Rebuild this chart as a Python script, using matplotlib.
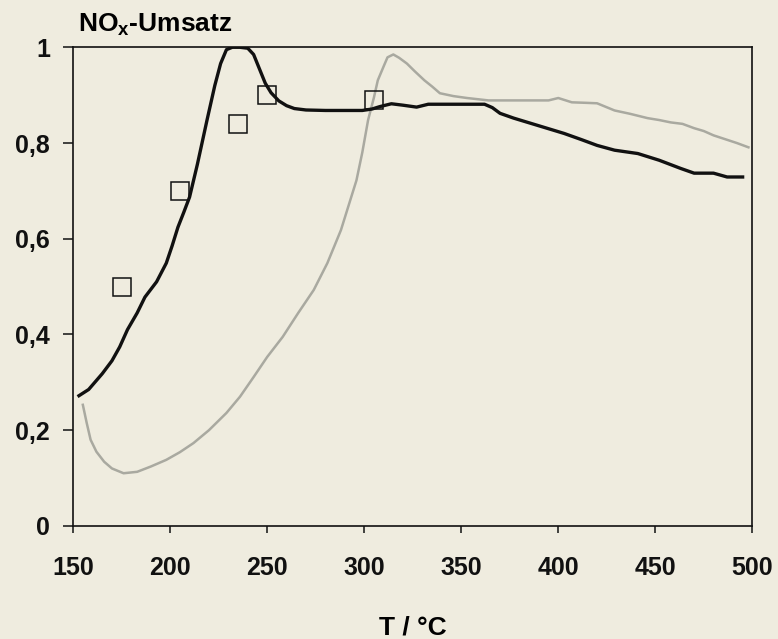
import matplotlib
matplotlib.use("Agg")
import matplotlib.pyplot as plt
from matplotlib.ticker import FuncFormatter

plt.rcParams["font.family"] = ["Liberation Sans", "DejaVu Sans"]
plt.rcParams["font.weight"] = "bold"
plt.rcParams["mathtext.fontset"] = "custom"
plt.rcParams["mathtext.rm"] = "Liberation Sans:bold"
plt.rcParams["mathtext.bf"] = "Liberation Sans:bold"

# black curve
t_black = [153, 158, 165, 170, 174, 178, 183, 187, 193, 198, 201, 204, 207, 210,
           214, 219, 223, 226, 229, 232, 236, 240, 243, 246, 249, 252, 256, 260,
           264, 270, 280, 290, 299, 304, 308, 314, 320, 327, 333, 345, 355, 362,
           366, 370, 377, 390, 403, 412, 420, 429, 441, 452, 463, 470, 480, 487, 495]
u_black = [0.272, 0.285, 0.318, 0.345, 0.374, 0.41, 0.445, 0.478, 0.51, 0.549,
           0.585, 0.624, 0.655, 0.687, 0.755, 0.848, 0.92, 0.966, 0.995, 1.0, 1.0,
           0.998, 0.985, 0.955, 0.925, 0.905, 0.888, 0.878, 0.872, 0.869, 0.868,
           0.868, 0.868, 0.871, 0.876, 0.882, 0.879, 0.875, 0.881, 0.881, 0.881,
           0.881, 0.874, 0.862, 0.852, 0.836, 0.82, 0.807, 0.795, 0.785, 0.778,
           0.764, 0.747, 0.737, 0.737, 0.729, 0.729]

# grey curve
t_grey = [155, 157, 159, 162, 166, 170, 176, 183, 190, 198, 205, 212, 220, 229,
          236, 243, 250, 258, 266, 274, 281, 288, 292, 296, 299, 302, 305, 307,
          310, 312, 315, 318, 322, 326, 331, 335, 339, 346, 353, 364, 375, 385,
          395, 400, 407, 414, 420, 429, 437, 446, 452, 458, 464, 470, 475, 480,
          486, 492, 498]
u_grey = [0.253, 0.215, 0.18, 0.155, 0.134, 0.12, 0.11, 0.113, 0.124, 0.138,
          0.154, 0.173, 0.2, 0.236, 0.27, 0.311, 0.353, 0.395, 0.445, 0.493,
          0.549, 0.618, 0.67, 0.722, 0.78, 0.848, 0.895, 0.931, 0.96, 0.979,
          0.985, 0.978, 0.966, 0.95, 0.931, 0.918, 0.904, 0.898, 0.894, 0.889,
          0.889, 0.889, 0.889, 0.894, 0.885, 0.884, 0.883, 0.868, 0.861, 0.852,
          0.848, 0.843, 0.84, 0.831, 0.825, 0.816, 0.808, 0.8, 0.791]

# measured points
t_meas = [175, 205, 235, 250, 305]
u_meas = [0.50, 0.70, 0.84, 0.90, 0.89]

bg = "#efecdf"
fig = plt.figure(figsize=(7.78, 6.39), dpi=100, facecolor=bg)
ax = fig.add_axes([0.094, 0.177, 0.873, 0.749], facecolor=bg)

ax.plot(t_grey, u_grey, color="#a9a9a0", linewidth=1.8, zorder=2)
ax.plot(t_black, u_black, color="#111111", linewidth=2.4, zorder=3)
ax.plot(t_meas, u_meas, linestyle="none", marker="s", markersize=13,
        markerfacecolor="none", markeredgecolor="#111111", markeredgewidth=1.1,
        zorder=4)

ax.set_xlim(150, 500)
ax.set_ylim(0, 1)
ax.set_xticks(range(150, 501, 50))
ax.set_yticks([0, 0.2, 0.4, 0.6, 0.8, 1.0])
ax.yaxis.set_major_formatter(FuncFormatter(
    lambda v, p: "0" if v == 0 else ("1" if v == 1 else f"{v:.1f}".replace(".", ","))))

for s in ax.spines.values():
    s.set_linewidth(1.2)
    s.set_color("#111111")
ax.tick_params(axis="y", direction="out", length=7.5, width=1.1, pad=9,
               labelsize=18, colors="#111111")
ax.tick_params(axis="x", direction="out", length=5, width=1.1, pad=17,
               labelsize=18, colors="#111111")

ax.set_xlabel("T / °C", fontsize=19, fontweight="bold", labelpad=25)
fig.text(0.100, 1 - 32 / 639, r"NO$_\mathrm{x}$-Umsatz", fontsize=19,
         fontweight="bold", ha="left", va="baseline")

fig.savefig("out.png", dpi=100, facecolor=bg)
